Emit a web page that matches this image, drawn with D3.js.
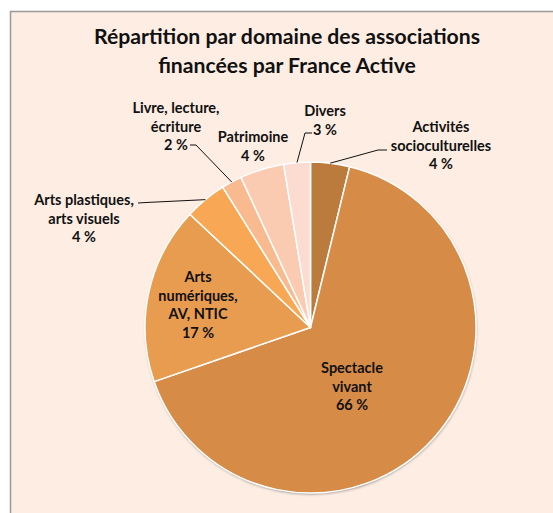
<!DOCTYPE html>
<html>
<head>
<meta charset="utf-8">
<script src="https://cdn.jsdelivr.net/npm/d3@7"></script>
<style>
  html, body { margin: 0; padding: 0; background: #fff; }
  text { font-family: Lato, "Open Sans", sans-serif; font-weight: bold; fill: #111; }
</style>
</head>
<body>
<svg id="chart"></svg>
<script>
// slices, clockwise from 12 o'clock
const categories = [
    'Activités socioculturelles',
    'Spectacle vivant',
    'Arts numériques, AV, NTIC',
    'Arts plastiques, arts visuels',
    'Livre, lecture, écriture',
    'Patrimoine',
    'Divers'
];
const shares = [3.8, 65.9, 17.3, 4.1, 2.0, 4.3, 2.6];
const labelLines = [
    ['Activités', 'socioculturelles'],
    ['Spectacle', 'vivant'],
    ['Arts', 'numériques,', 'AV, NTIC'],
    ['Arts plastiques,', 'arts visuels'],
    ['Livre, lecture,', 'écriture'],
    ['Patrimoine'],
    ['Divers']
];
const sliceColors = ['#bb7b3d', '#d68b47', '#e89c50', '#f8a855', '#f8ba8e', '#facbb1', '#fcdbd0'];
const titleLines = ['Répartition par domaine des associations', 'financées par France Active'];

const width = 553, height = 513;
const cx = 310.5, cy = 327.5, radius = 165.5;
const lineH = 18.5;

// label block placement (centre x, first baseline y) and leader elbow, per slice
const labelLayout = [
    { x: 441, y: 132, leader: [[387, 150], [378, 150]] },
    { x: 352, y: 373 },
    { x: 198, y: 282 },
    { x: 84, y: 205, leader: [[138, 203], [146, 202.5]] },
    { x: 176, y: 113, leader: [[190, 145], [196, 145]] },
    { x: 253, y: 142 },
    { x: 325, y: 116, leader: [[312, 133], [305, 133]] }
];

const svg = d3.select('#chart')
    .attr('width', width)
    .attr('height', height);

const defs = svg.append('defs');
defs.append('filter')
    .attr('id', 'shadow')
    .attr('x', '-10%').attr('y', '-10%')
    .attr('width', '120%').attr('height', '120%')
    .append('feDropShadow')
    .attr('dx', 0.5).attr('dy', 1.5)
    .attr('stdDeviation', 1.2)
    .attr('flood-color', '#777')
    .attr('flood-opacity', 0.7);

svg.append('rect')
    .attr('x', 10.5).attr('y', 11.5)
    .attr('width', width + 20).attr('height', height + 20)
    .attr('fill', '#fdede2')
    .attr('stroke', '#9a9a9a')
    .attr('stroke-width', 1.5);

svg.selectAll('.title')
    .data(titleLines).enter()
    .append('text')
    .attr('class', 'title')
    .attr('x', 287)
    .attr('y', (d, i) => 44 + i * 29)
    .attr('text-anchor', 'middle')
    .attr('font-size', 21.2)
    .text((d) => d);

const data = categories.map((c, i) => ({ name: c, value: shares[i], color: sliceColors[i], lines: labelLines[i], pos: labelLayout[i] }));

const pie = d3.pie().sort(null).value((d) => d.value);
const arcs = pie(data);
const arc = d3.arc().innerRadius(0).outerRadius(radius);
const edge = d3.arc().innerRadius(radius).outerRadius(radius);

const g = svg.append('g').attr('transform', `translate(${cx},${cy})`);

g.append('circle')
    .attr('r', radius)
    .attr('fill', '#fff')
    .attr('filter', 'url(#shadow)');

g.selectAll('path')
    .data(arcs).enter()
    .append('path')
    .attr('d', arc)
    .attr('fill', (d) => d.data.color)
    .attr('stroke', '#fff')
    .attr('stroke-width', 1.5)
    .attr('stroke-linejoin', 'round');

// leader lines: label elbow -> slice edge at mid angle
arcs.filter((d) => d.data.pos.leader).forEach((d) => {
    const end = edge.centroid(d);
    const pts = d.data.pos.leader.concat([[end[0] + cx, end[1] + cy]]);
    svg.append('path')
        .attr('d', d3.line()(pts))
        .attr('fill', 'none')
        .attr('stroke', '#111')
        .attr('stroke-width', 1);
});

const labels = svg.selectAll('.label')
    .data(arcs).enter()
    .append('text')
    .attr('class', 'label')
    .attr('text-anchor', 'middle')
    .attr('font-size', 14.5);

labels.each(function (d) {
    const t = d3.select(this);
    const lines = d.data.lines.concat([Math.round(d.data.value) + ' %']);
    lines.forEach((l, i) => {
        t.append('tspan')
            .attr('x', d.data.pos.x)
            .attr('y', d.data.pos.y + i * lineH)
            .text(l);
    });
});
</script>
</body>
</html>
